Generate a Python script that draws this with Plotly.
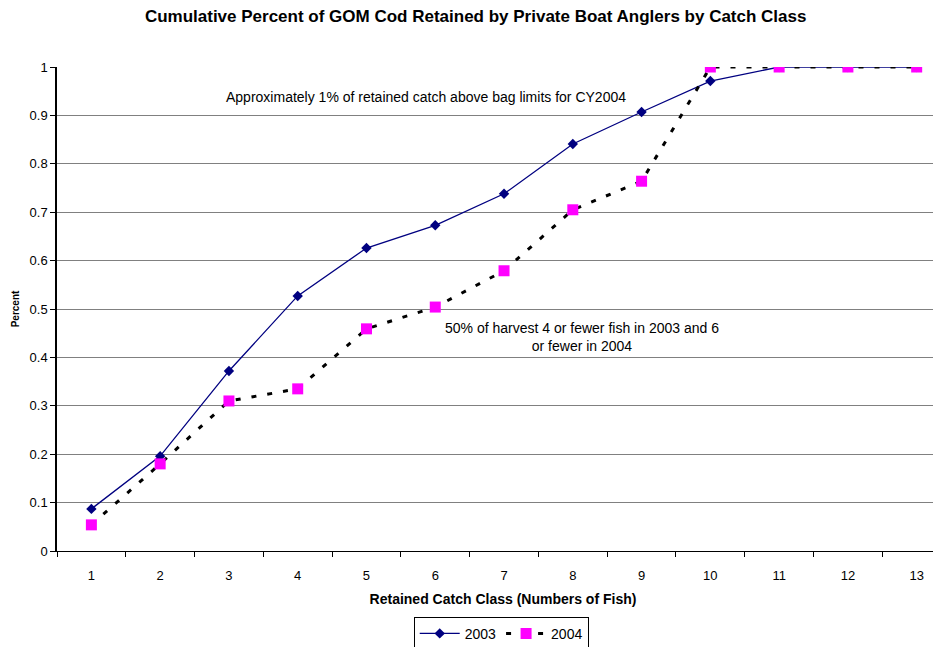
import plotly.graph_objects as go

categories = [1, 2, 3, 4, 5, 6, 7, 8, 9, 10, 11, 12, 13]
tick_labels = [str(c) for c in categories]
pct_2003 = [0.087, 0.196, 0.372, 0.527, 0.626, 0.673, 0.738, 0.841, 0.907, 0.971, 1.0, 1.0, 1.0]
pct_2004 = [0.054, 0.180, 0.310, 0.335, 0.459, 0.504, 0.579, 0.705, 0.764, 1.0, 1.0, 1.0, 1.0]

font = "Liberation Sans, Arial, sans-serif"

fig = go.Figure()
fig.add_trace(go.Scatter(
    x=categories, y=pct_2003, name="2003", mode="lines+markers",
    line=dict(color="#000080", width=1.3),
    marker=dict(symbol="diamond", size=8, color="#000080"),
))
fig.add_trace(go.Scatter(
    x=categories, y=pct_2004, name="2004", mode="lines+markers",
    line=dict(color="black", width=3, dash="5px,11px"),
    marker=dict(symbol="square", size=11, color="#FF00FF"),
))

fig.update_layout(
    width=941, height=647,
    margin=dict(l=49, r=0, t=59, b=104, autoexpand=False),
    paper_bgcolor="white", plot_bgcolor="white",
    font=dict(family=font, size=13, color="black"),
    title=dict(text="<b>Cumulative Percent of GOM Cod Retained by Private Boat Anglers by Catch Class</b>",
               x=0.497, xanchor="center", y=0.987, yanchor="middle", font=dict(size=17)),
    showlegend=True,
    legend=dict(orientation="h", x=0.498, xanchor="center", y=-0.136, yanchor="top",
                bordercolor="black", borderwidth=1, font=dict(size=14),
                itemwidth=40, tracegroupgap=0, valign="middle"),
    xaxis=dict(
        range=[0.5, 13.47], tickmode="array", tickvals=categories, ticktext=tick_labels,
        showgrid=False, showline=True, linecolor="black", linewidth=1,
        ticks="outside", ticklen=12, tickcolor="rgba(0,0,0,0)",
        zeroline=False, tickfont=dict(size=13), automargin=False,
        title=dict(text="<b>Retained Catch Class (Numbers of Fish)</b>", font=dict(size=14), standoff=12),
        minor=dict(tickmode="array", tickvals=[c + 0.5 for c in [0] + categories], ticks="outside",
                   ticklen=5, tickcolor="black", showgrid=False),
    ),
    yaxis=dict(
        range=[0, 1], tickmode="array", tickvals=[i / 10 for i in range(11)],
        ticktext=["0", "0.1", "0.2", "0.3", "0.4", "0.5", "0.6", "0.7", "0.8", "0.9", "1"],
        showgrid=True, gridcolor="#808080", gridwidth=1,
        showline=True, linecolor="black", linewidth=1.5,
        ticks="outside", ticklen=5, tickcolor="black", zeroline=False,
        tickfont=dict(size=13), automargin=False,
        title=dict(text="<b>Percent</b>", font=dict(size=10), standoff=8),
    ),
)

fig.add_annotation(text="Approximately 1% of retained catch above bag limits for CY2004",
                   x=0.414, xref="paper", y=0.959, yref="paper", showarrow=False,
                   font=dict(size=14))
fig.add_annotation(text="50% of harvest 4 or fewer fish in 2003 and 6<br>or fewer in 2004",
                   x=0.589, xref="paper", y=0.443, yref="paper", showarrow=False,
                   font=dict(size=14), align="center")

fig.write_html("out.html")
